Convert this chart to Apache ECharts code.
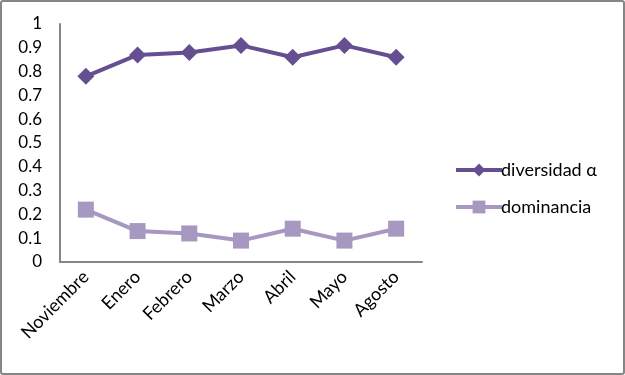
<!DOCTYPE html>
<html>
<head>
<meta charset="utf-8">
<script src="https://cdn.jsdelivr.net/npm/echarts@6/dist/echarts.min.js"></script>
<style>
  html, body { margin: 0; padding: 0; background: #fff; }
  #chart {
    width: 625px;
    height: 375px;
    box-sizing: border-box;
    border: 2px solid #868686;
    border-radius: 3px;
  }
</style>
</head>
<body>
<div id="chart"></div>
<script>
const categories = ['Noviembre', 'Enero', 'Febrero', 'Marzo', 'Abril', 'Mayo', 'Agosto'];
const diversidad = [0.78, 0.87, 0.88, 0.91, 0.86, 0.91, 0.86];
const dominancia = [0.22, 0.13, 0.12, 0.09, 0.14, 0.09, 0.14];
const yTicks = [0, 0.1, 0.2, 0.3, 0.4, 0.5, 0.6, 0.7, 0.8, 0.9, 1];

const font = 'Lato, "Open Sans", sans-serif';
const chart = echarts.init(document.getElementById('chart'));

const option = {
  animation: false,
  grid: { left: 58, right: 201, top: 22, bottom: 111, containLabel: false },
  legend: {
    orient: 'vertical',
    left: 447,
    top: 154,
    itemWidth: 46,
    itemHeight: 16,
    itemGap: 19,
    lineStyle: { width: 4 },
    textStyle: { fontFamily: font, fontSize: 18, color: '#000', padding: [0, 0, 0, -6] },
    data: ['diversidad α', 'dominancia']
  },
  xAxis: {
    type: 'category',
    data: categories,
    boundaryGap: true,
    axisLine: { lineStyle: { color: '#868686', width: 2 } },
    axisTick: { show: false },
    axisLabel: { rotate: 45, fontFamily: font, fontSize: 18, color: '#000', margin: 12, interval: 0 }
  },
  yAxis: {
    type: 'value',
    min: yTicks[0],
    max: yTicks[yTicks.length - 1],
    interval: 0.1,
    splitLine: { show: false },
    axisLine: { show: true, lineStyle: { color: '#868686', width: 2 } },
    axisTick: { show: false },
    axisLabel: { fontFamily: font, fontSize: 17, color: '#000', margin: 18,
      formatter: v => String(Math.round(v * 10) / 10) }
  },
  series: [
    {
      name: 'diversidad α',
      type: 'line',
      data: diversidad,
      symbol: 'diamond',
      symbolSize: 17,
      lineStyle: { color: '#664f91', width: 4 },
      itemStyle: { color: '#664f91' }
    },
    {
      name: 'dominancia',
      type: 'line',
      data: dominancia,
      symbol: 'rect',
      symbolSize: 16,
      lineStyle: { color: '#a698c1', width: 4 },
      itemStyle: { color: '#a698c1' }
    }
  ]
};

chart.setOption(option);
</script>
</body>
</html>
